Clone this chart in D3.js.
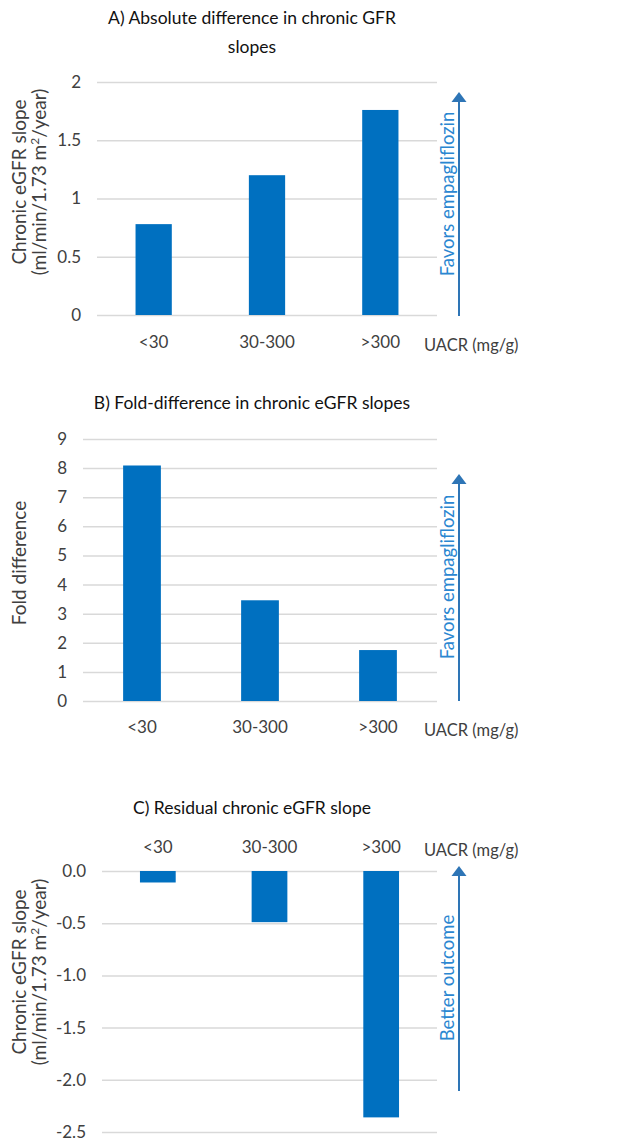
<!DOCTYPE html>
<html>
<head>
<meta charset="utf-8">
<script src="https://cdn.jsdelivr.net/npm/d3@7"></script>
<style>
  body { margin: 0; background: #fff; }
  svg text { font-family: Lato, "Open Sans", sans-serif; }
</style>
</head>
<body>
<div id="chart"></div>
<script>
// Data
const categories = ["<30", "30-300", ">300"];
const absDiff = [0.78, 1.20, 1.76];      // panel A
const foldDiff = [8.09, 3.46, 1.75];     // panel B
const residual = [-0.11, -0.49, -2.36];  // panel C

const ticksA = [0, 0.5, 1, 1.5, 2];
const ticksB = [0, 1, 2, 3, 4, 5, 6, 7, 8, 9];
const ticksC = [0, -0.5, -1, -1.5, -2, -2.5];

const width = 625, height = 1142;
const barColor = "#0070C0";
const arrowColor = "#2E75B6";
const noteColor = "#2B87D1";
const textColor = "#404040";

const svg = d3.select("#chart").append("svg")
  .attr("width", width)
  .attr("height", height);

function drawPanel(p) {
  const g = svg.append("g");

  const x = d3.scaleBand()
    .domain(categories)
    .range([p.left, p.right])
    .paddingInner(0.68)
    .paddingOuter(0.34);

  const y = d3.scaleLinear()
    .domain(p.domain)
    .range([p.bottom, p.top]);

  // gridlines + tick labels
  const yAxis = g.append("g")
    .attr("transform", `translate(${p.left},0)`)
    .call(d3.axisLeft(y)
      .tickValues(p.ticks)
      .tickSize(-(p.right - p.left))
      .tickPadding(16)
      .tickFormat(p.fmt));
  yAxis.select(".domain").remove();
  yAxis.selectAll("line").attr("stroke", "#D9D9D9").attr("stroke-width", 1.5);
  yAxis.selectAll("text")
    .attr("fill", textColor)
    .style("font-size", "17px");

  // bars
  g.selectAll("rect.bar")
    .data(p.values)
    .enter()
    .append("rect")
    .attr("class", "bar")
    .attr("x", (d, i) => x(categories[i]))
    .attr("y", d => Math.min(y(0), y(d)))
    .attr("width", x.bandwidth())
    .attr("height", d => Math.abs(y(d) - y(0)))
    .attr("fill", barColor);

  // category labels
  const xAxis = g.append("g")
    .attr("transform", `translate(0,${p.catY})`)
    .call(d3.axisBottom(x).tickSize(0).tickPadding(0));
  xAxis.select(".domain").remove();
  xAxis.selectAll("text")
    .attr("fill", textColor)
    .attr("dy", "0.35em")
    .style("font-size", "17px");

  g.append("text")
    .attr("x", 424)
    .attr("y", p.catY + 3)
    .attr("dy", "0.35em")
    .attr("fill", textColor)
    .style("font-size", "16.5px")
    .text("UACR (mg/g)");

  // title
  p.title.forEach((t, i) => {
    g.append("text")
      .attr("x", 252)
      .attr("y", p.titleY + i * 29)
      .attr("dy", "0.35em")
      .attr("text-anchor", "middle")
      .attr("fill", "#111")
      .style("font-size", "17.5px")
      .text(t);
  });

  // y-axis label
  const yl = g.append("text")
    .attr("transform", `translate(19,${p.labelY}) rotate(-90)`)
    .attr("text-anchor", "middle")
    .attr("fill", textColor)
    .style("font-size", "19px");
  yl.append("tspan").attr("x", 0).attr("dy", "0.35em").text(p.ylabel[0]);
  if (p.ylabel.length > 1) {
    const t2 = yl.append("tspan").attr("x", 0).attr("dy", "20");
    t2.append("tspan").text("(ml/min/1.73 m");
    t2.append("tspan").attr("baseline-shift", "super").style("font-size", "12px").text("2");
    t2.append("tspan").text("/year)");
  }

  // direction arrow
  const ax = 459;
  g.append("line")
    .attr("x1", ax).attr("x2", ax)
    .attr("y1", p.arrow[0]).attr("y2", p.arrow[1] + 8)
    .attr("stroke", arrowColor)
    .attr("stroke-width", 2);
  g.append("path")
    .attr("d", `M${ax - 7.5},${p.arrow[1] + 10} L${ax},${p.arrow[1]} L${ax + 7.5},${p.arrow[1] + 10} Z`)
    .attr("fill", arrowColor);
  g.append("text")
    .attr("transform", `translate(448,${p.noteY}) rotate(-90)`)
    .attr("text-anchor", "middle")
    .attr("dy", "0.35em")
    .attr("fill", noteColor)
    .style("font-size", "18.5px")
    .text(p.note);
}

drawPanel({
  values: absDiff, ticks: ticksA, domain: [0, 2],
  fmt: d3.format(""),
  left: 97, right: 437, top: 82, bottom: 315,
  catY: 342,
  title: ["A) Absolute difference in chronic GFR", "slopes"], titleY: 18,
  ylabel: ["Chronic eGFR slope", "2"], labelY: 182,
  arrow: [316, 92], note: "Favors empagliflozin", noteY: 194
});

drawPanel({
  values: foldDiff, ticks: ticksB, domain: [0, 9],
  fmt: d3.format(""),
  left: 83, right: 437, top: 439, bottom: 701,
  catY: 727,
  title: ["B) Fold-difference in chronic eGFR slopes"], titleY: 403,
  ylabel: ["Fold difference"], labelY: 563,
  arrow: [701, 474], note: "Favors empagliflozin", noteY: 577
});

drawPanel({
  values: residual, ticks: ticksC, domain: [-2.5, 0],
  fmt: d => d.toFixed(1),
  left: 102, right: 437, top: 871, bottom: 1132,
  catY: 847,
  title: ["C) Residual chronic eGFR slope"], titleY: 808,
  ylabel: ["Chronic eGFR slope", "2"], labelY: 972,
  arrow: [1091, 866], note: "Better outcome", noteY: 978
});
</script>
</body>
</html>
